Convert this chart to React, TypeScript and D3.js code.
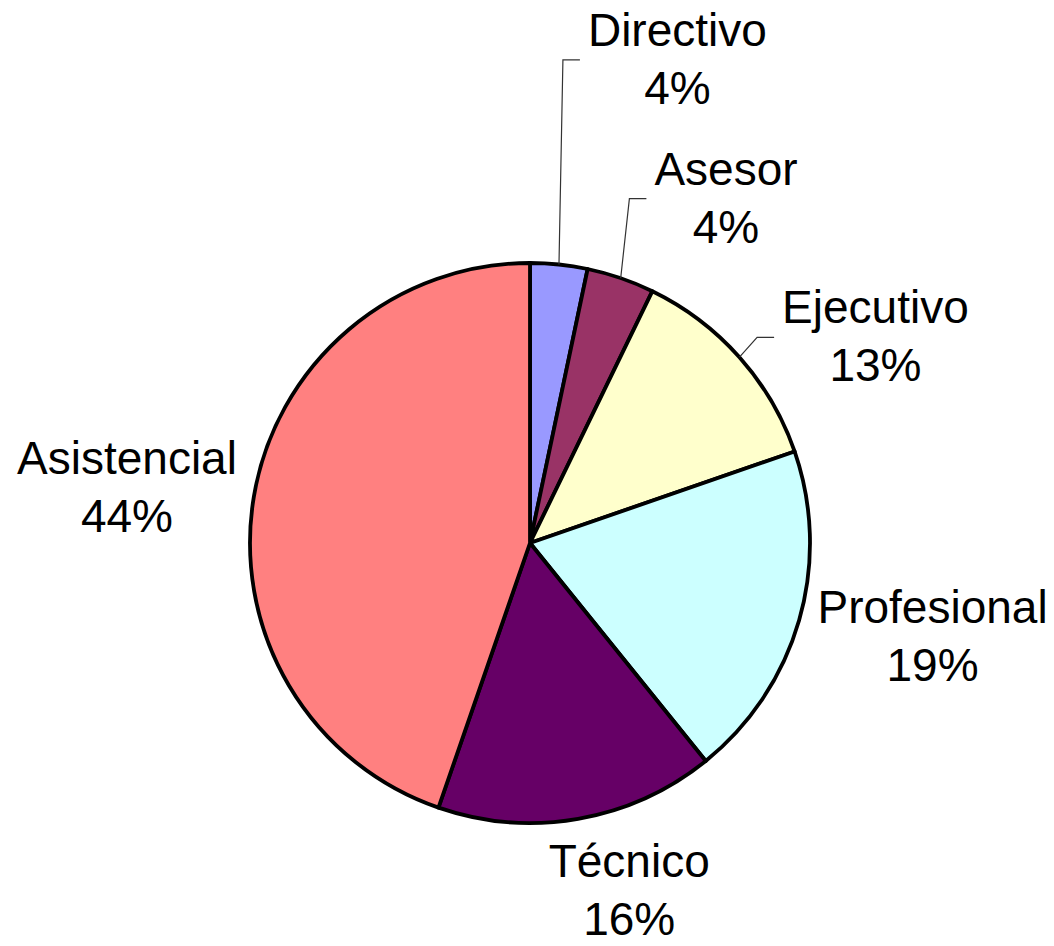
import React, { useEffect, useRef } from 'react';
import * as d3 from 'd3';

// Data (percent of staff by level)
const categories = ['Directivo', 'Asesor', 'Ejecutivo', 'Profesional', 'Técnico', 'Asistencial'];
const values = [3.3, 3.9, 12.5, 19.5, 16.1, 44.7];
const percentLabels = ['4%', '4%', '13%', '19%', '16%', '44%'];
const colors = ['#9999FF', '#993366', '#FFFFCC', '#CCFFFF', '#660066', '#FF8080'];
// labels that get a leader line back to their slice
const withLeader = ['Directivo', 'Asesor', 'Ejecutivo'];

const App = () => {
  const chartRef = useRef<SVGSVGElement>(null);

  useEffect(() => {
    const width = 1054;
    const height = 946;
    const cx = 530;
    const cy = 543;
    const radius = 280;
    const fontSize = 46;
    // label placement: shift from slice mid-angle (deg) and distance from centre
    const labelShift = [10.96, 10.6, 10.58, -3.12, -6.1, -1.54];
    const labelDist = [507, 398, 403, 413, 360, 407];

    const svg = d3.select(chartRef.current);
    svg.selectAll('*').remove();
    svg.attr('width', width).attr('height', height);

    const g = svg.append('g').attr('transform', `translate(${cx},${cy})`);

    const pie = d3.pie<number>().sort(null).value(d => d);
    const arcs = pie(values);
    const arc = d3.arc<d3.PieArcDatum<number>>().innerRadius(0).outerRadius(radius);

    g.selectAll('path.slice')
      .data(arcs)
      .enter()
      .append('path')
      .attr('class', 'slice')
      .attr('d', arc)
      .attr('fill', (_, i) => colors[i])
      .attr('stroke', '#000')
      .attr('stroke-width', 3.8)
      .attr('stroke-linejoin', 'round');

    const polar = (angle: number, r: number): [number, number] => [
      r * Math.sin(angle),
      -r * Math.cos(angle),
    ];

    arcs.forEach((a, i) => {
      const mid = (a.startAngle + a.endAngle) / 2;
      const [lx, ly] = polar(mid + (labelShift[i] * Math.PI) / 180, labelDist[i]);

      const label = g.append('text')
        .attr('text-anchor', 'middle')
        .attr('font-family', '"Liberation Sans", Arial, sans-serif')
        .attr('font-size', fontSize)
        .attr('fill', '#000');
      label.append('tspan').attr('x', lx).attr('y', ly - 12).text(categories[i]);
      label.append('tspan').attr('x', lx).attr('y', ly + 46).text(percentLabels[i]);

      if (withLeader.includes(categories[i])) {
        const box = (label.node() as SVGTextElement).getBBox();
        const left = box.x;
        const [ex, ey] = polar(mid, radius);
        g.append('polyline')
          .attr('points', `${ex},${ey} ${left - 25},${ly + 2} ${left - 8},${ly + 2}`)
          .attr('fill', 'none')
          .attr('stroke', '#333')
          .attr('stroke-width', 1.2);
      }
    });
  }, []);

  return (
    <svg
      ref={chartRef}
      style={{ position: 'absolute', left: 0, top: 0, background: '#fff' }}
    />
  );
};

export default App;
